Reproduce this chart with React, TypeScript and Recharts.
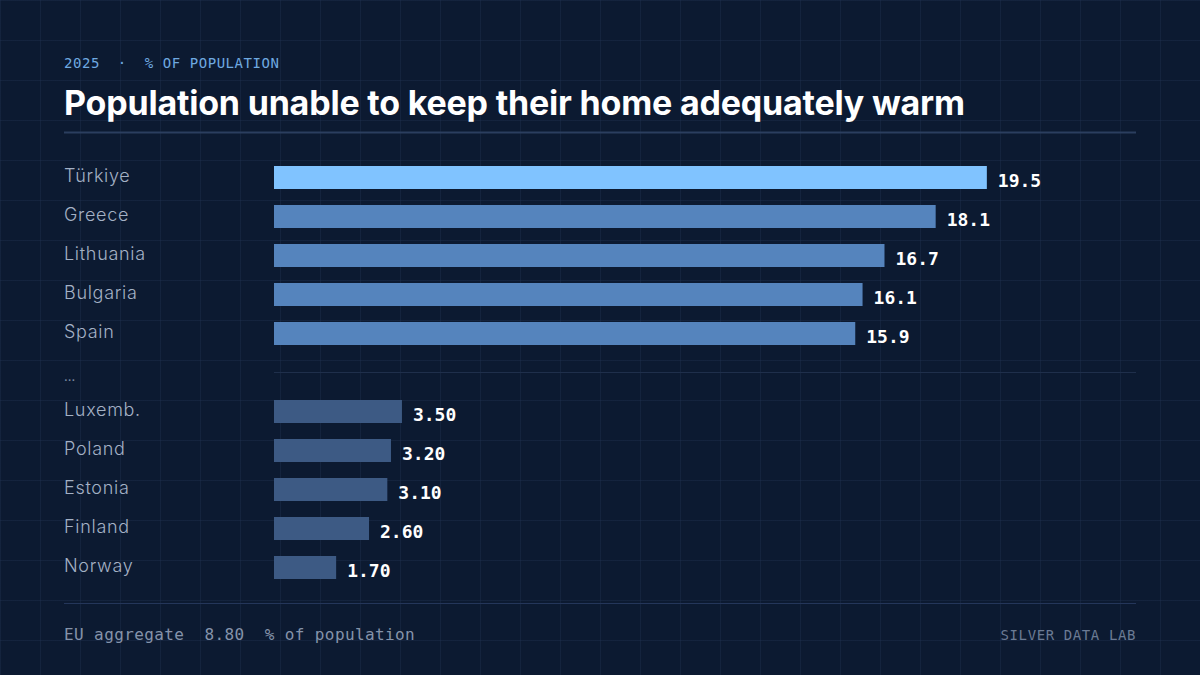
import React from "react";
import { BarChart, Bar, XAxis, YAxis, Cell, LabelList, ReferenceLine } from "recharts";

const categories = ["Türkiye", "Greece", "Lithuania", "Bulgaria", "Spain", "…", "Luxemb.", "Poland", "Estonia", "Finland", "Norway"];
const values: (number | null)[] = [19.5, 18.1, 16.7, 16.1, 15.9, null, 3.5, 3.2, 3.1, 2.6, 1.7];
const groups = ["highlight", "top", "top", "top", "top", "gap", "bottom", "bottom", "bottom", "bottom", "bottom"];
const euAggregate = 8.8;
const eyebrow = "2025  ·  % OF POPULATION";
const title = "Population unable to keep their home adequately warm";
const footerUnit = "% of population";
const brand = "SILVER DATA LAB";

const groupColors: Record<string, string> = {
  highlight: "#80c3ff",
  top: "#5584bd",
  bottom: "#3d5a84",
  gap: "transparent",
};

const data = categories.map((name, i) => ({ name, value: values[i], group: groups[i] }));

const BG = "#0c1a31";
const GRID = "rgba(40,60,95,0.28)";
const MONO = "'DejaVu Sans Mono', 'Liberation Mono', monospace";
const SANS = "Inter, 'Noto Sans', sans-serif";

const CountryTick = (props: any) => {
  const { y, payload } = props;
  const isGap = payload.value === "…";
  if (isGap) {
    return (
      <text x={64} y={y + 8.5} fill="#7c8aa2" fontSize={13} fontFamily={SANS}>
        ...
      </text>
    );
  }
  return (
    <text x={64} y={y + 4} fill="#a4b1c5" fontSize={18} fontWeight={300} letterSpacing={0.7} fontFamily={SANS} textAnchor="start">
      {payload.value}
    </text>
  );
};

const ValueLabel = (props: any) => {
  const { x, y, width, height, value } = props;
  if (value === null || value === undefined) return null;
  return (
    <text
      x={x + width + 11}
      y={y + height / 2 + 9}
      fill="#ffffff"
      fontSize={18}
      fontWeight={700}
      fontFamily={MONO}
    >
      {Number(value).toPrecision(3)}
    </text>
  );
};

export default function App() {
  return (
    <div
      style={{
        position: "absolute",
        left: 0,
        top: 0,
        width: 1200,
        height: 675,
        backgroundColor: BG,
        backgroundImage: `linear-gradient(to right, ${GRID} 1px, transparent 1px), linear-gradient(to bottom, ${GRID} 1px, transparent 1px)`,
        backgroundSize: "40px 40px",
        overflow: "hidden",
      }}
    >
      <div style={{ position: "absolute", left: 0, top: 0 }}>
        <BarChart
          width={1200}
          height={675}
          data={data}
          layout="vertical"
          margin={{ top: 158, right: 64, bottom: 88, left: 64 }}
          barCategoryGap={8}
        >
          <XAxis type="number" domain={[0, 23.58]} hide />
          <YAxis
            type="category"
            dataKey="name"
            width={210}
            axisLine={false}
            tickLine={false}
            tick={<CountryTick />}
            interval={0}
          />
          <ReferenceLine y="…" stroke="#1f2f4b" strokeWidth={1} />
          <Bar dataKey="value" barSize={23} isAnimationActive={false}>
            {data.map((d, i) => (
              <Cell key={i} fill={groupColors[d.group]} />
            ))}
            <LabelList dataKey="value" content={<ValueLabel />} />
          </Bar>
        </BarChart>
      </div>
      <svg
        width={1200}
        height={675}
        style={{ position: "absolute", left: 0, top: 0, pointerEvents: "none" }}
      >
        <text x={64} y={68} fill="#6fa9e0" fontSize={14} fontFamily={MONO} letterSpacing={0.55} style={{ whiteSpace: "pre" }}>
          {eyebrow}
        </text>
        <text x={64} y={115} fill="#ffffff" fontSize={34} fontWeight={700} fontFamily={SANS} letterSpacing={-0.2}>
          {title}
        </text>
        <line x1={64} x2={1136} y1={132.5} y2={132.5} stroke="#2b3e5f" strokeWidth={2} />
        <line x1={64} x2={1136} y1={603.5} y2={603.5} stroke="#24365a" strokeWidth={1} />
        <text x={64} y={640} fill="#8593aa" fontSize={16} fontFamily={MONO} letterSpacing={0.4} style={{ whiteSpace: "pre" }}>
          {`EU aggregate  ${euAggregate.toPrecision(3)}  ${footerUnit}`}
        </text>
        <text x={1136} y={640} fill="#6b7a94" fontSize={14} fontFamily={MONO} letterSpacing={0.6} textAnchor="end">
          {brand}
        </text>
      </svg>
    </div>
  );
}
